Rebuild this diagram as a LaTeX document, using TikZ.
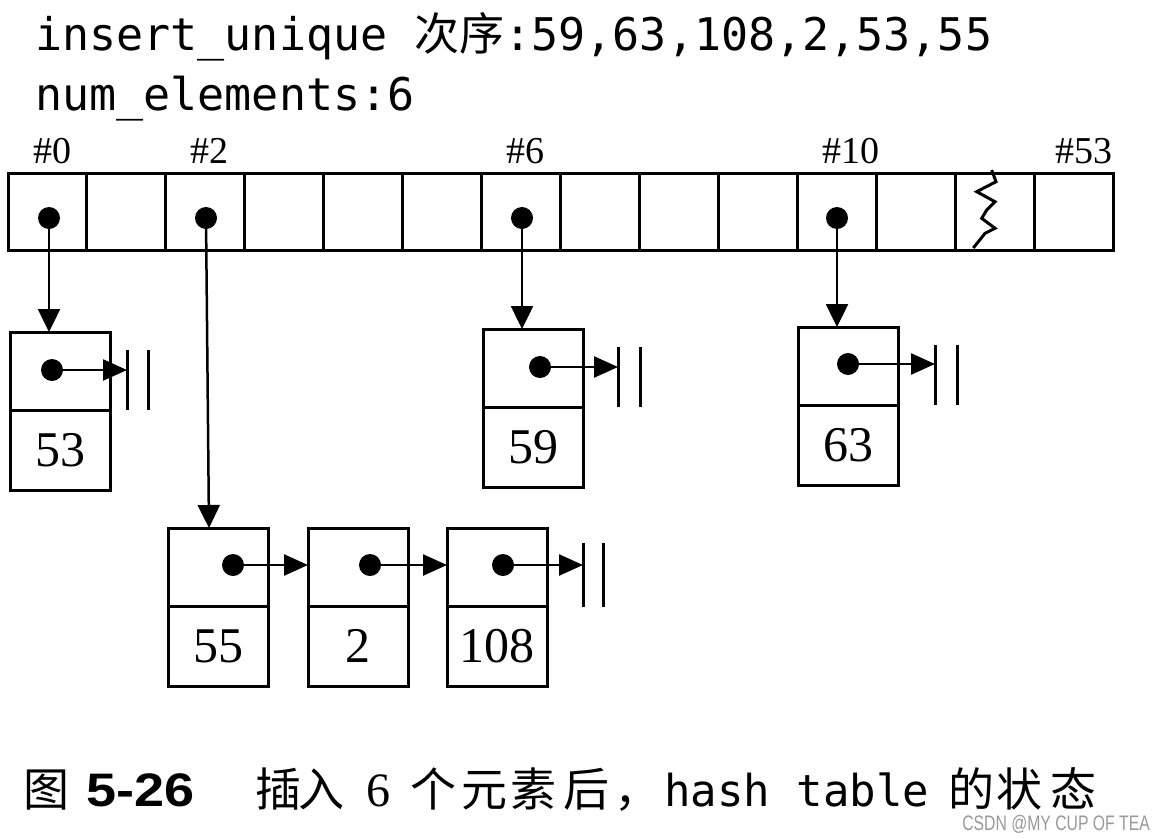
\documentclass[tikz,border=0pt]{standalone}
\usepackage{fontspec}
\setmainfont{Liberation Serif}
\setmonofont{DejaVu Sans Mono}
\newfontfamily\cjk{Noto Sans CJK SC}
\newfontfamily\hvs{Liberation Sans}
\usetikzlibrary{arrows.meta}
\tikzset{
  cell/.style={draw, line width=3pt, minimum width=78.93pt, minimum height=77pt, inner sep=0pt, outer sep=0pt, anchor=north west},
  ltop/.style={draw, line width=3pt, minimum width=100pt, minimum height=78pt, inner sep=0pt, outer sep=0pt, anchor=north west},
  lval/.style={draw, line width=3pt, minimum width=100pt, minimum height=80pt, inner sep=0pt, outer sep=0pt, anchor=north west, font=\fontsize{50}{50}\selectfont},
  dotn/.style={circle, fill=black, inner sep=0pt, minimum size=22pt},
  lbl/.style={anchor=base, inner sep=0pt, font=\fontsize{38}{38}\selectfont},
  vptr/.style={line width=2.5pt, -{Triangle[length=23pt,width=22pt]}},
  hptr/.style={line width=2.5pt, -{Triangle[length=24pt,width=21pt]}},
  nilbar/.style={line width=3pt},
  mono/.style={anchor=base west, inner sep=0pt, font=\ttfamily\fontsize{45}{45}\selectfont},
  captxt/.style={anchor=base west, inner sep=0pt, font=\cjk\fontsize{46}{46}\selectfont},
}
\begin{document}
\begin{tikzpicture}[x=1pt, y=-1pt]
\useasboundingbox (0,0) rectangle (1166,838);
\fill[white] (0,0) rectangle (1166,838);

% title
\node[mono] (title1) at (35,50) {insert\_unique {\cjk 次序}:59,63,108,2,53,55};
\node[mono] (title2) at (35,110) {num\_elements:6};

% bucket table
\foreach \i in {0,...,13} {
  \node[cell] (b\i) at ({8+\i*78.93},173) {};
}
\draw[line width=3pt, line join=miter] (991.7,170) -- (996,181.7) -- (976.7,191.7) -- (995,201.7) -- (986.7,210) -- (981.7,218.3) -- (995,228.3) -- (985,233.3) -- (973.3,248);

% labels
\node[lbl] (l0) at (52,163) {\#0};
\node[lbl] (l2) at (209,163) {\#2};
\node[lbl] (l6) at (525,163) {\#6};
\node[lbl] (l10) at (851,163) {\#10};
\node[lbl, anchor=base east] (l53) at (1113,163) {\#53};

% bucket pointers
\node[dotn] (d0) at (49,218) {};
\node[dotn] (d2) at (206,218) {};
\node[dotn] (d6) at (522,218) {};
\node[dotn] (d10) at (837,218) {};

% list nodes
\node[ltop] (t53) at (10,332) {};
\node[lval] (v53) at (t53.south west) {53};
\node[ltop] (t59) at (483,329) {};
\node[lval] (v59) at (t59.south west) {59};
\node[ltop] (t63) at (798,327) {};
\node[lval] (v63) at (t63.south west) {63};
\node[ltop] (t55) at (168,528) {};
\node[lval] (v55) at (t55.south west) {55};
\node[ltop] (t2) at (308,528) {};
\node[lval] (v2) at (t2.south west) {2};
\node[ltop] (t108) at (447,528) {};
\node[lval] (v108) at (t108.south west) {108};

% vertical pointers
\draw[vptr] (d0.center) -- (t53.north -| d0.center);
\coordinate (c55) at (209,528);
\draw[vptr] (d2.center) -- (c55);
\draw[vptr] (d6.center) -- (t59.north -| d6.center);
\draw[vptr] (d10.center) -- (t63.north -| d10.center);

% next pointers
\node[dotn] (e53) at (52,370) {};
\node[dotn] (e59) at (540,367) {};
\node[dotn] (e63) at (848,364) {};
\node[dotn] (e55) at (233,565) {};
\node[dotn] (e2) at (370,565) {};
\node[dotn] (e108) at (503,565) {};

\coordinate (n53) at (127,370);
\coordinate (n59) at (618,367);
\coordinate (n63) at (935,364);
\coordinate (n108) at (583,565);

\draw[hptr] (e53.center) -- (n53);
\draw[hptr] (e59.center) -- (n59);
\draw[hptr] (e63.center) -- (n63);
\draw[hptr] (e55.center) -- (t2.west |- e55.center);
\draw[hptr] (e2.center) -- (t108.west |- e2.center);
\draw[hptr] (e108.center) -- (n108);

% null bars
\draw[nilbar] (127,350) -- (127,410) (148,350) -- (148,410);
\draw[nilbar] (618,347) -- (618,407) (640,347) -- (640,407);
\draw[nilbar] (935,345) -- (935,405) (957,345) -- (957,405);
\draw[nilbar] (583,543) -- (583,607) (603,543) -- (603,607);

% caption
\node[captxt] (cap1) at (23,806) {图};
\node[anchor=base west, inner sep=0pt, font=\hvs\bfseries\fontsize{47}{47}\selectfont] (cap2) at (86,806) {\scalebox{1.15}[1]{5-26}};
\node[captxt] (cap3) at (255,806) {插};
\node[captxt] (cap3b) at (298,806) {入};
\node[anchor=base west, inner sep=0pt, font=\fontsize{48}{48}\selectfont] (cap4) at (366,806) {6};
\node[captxt] (cap5) at (410,806) {个};
\node[captxt] (cap5b) at (461,806) {元};
\node[captxt] (cap5c) at (510,806) {素};
\node[captxt] (cap5d) at (563,806) {后};
\node[captxt] (cap5e) at (614,806) {，};
\node[anchor=base west, inner sep=0pt, font=\ttfamily\fontsize{44}{44}\selectfont] (cap6) at (664,806) {hash table};
\node[captxt] (cap7) at (948,806) {的};
\node[captxt] (cap7b) at (996,806) {状};
\node[captxt] (cap7c) at (1050,806) {态};

% watermark
\node[anchor=base east, inner sep=0pt, text=black!40, font=\hvs\fontsize{21}{21}\selectfont] (wm) at (1150,830) {\scalebox{0.75}[1]{CSDN @MY CUP OF TEA}};
\end{tikzpicture}
\end{document}
